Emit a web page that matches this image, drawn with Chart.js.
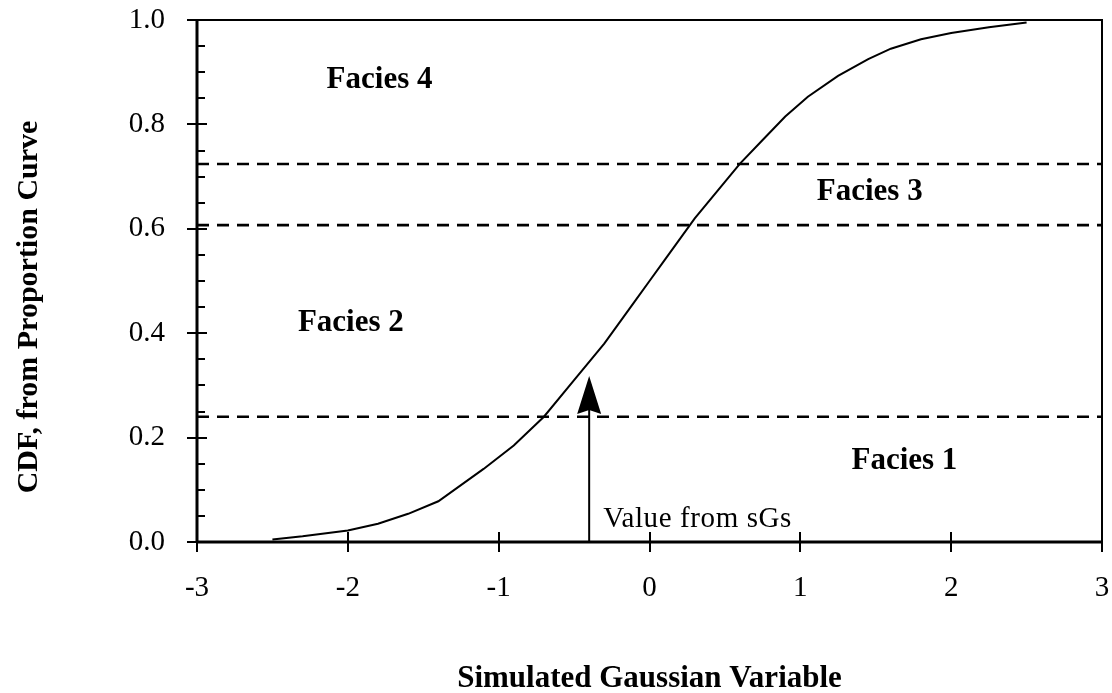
<!DOCTYPE html>
<html>
<head>
<meta charset="utf-8">
<script src="https://cdn.jsdelivr.net/npm/chart.js@4.4.1/dist/chart.umd.min.js"></script>
<style>
  body { margin: 0; background: #fff; }
  #wrap { width: 1112px; height: 693px; }
</style>
</head>
<body>
<div id="wrap"><canvas id="cdfChart" width="1112" height="693"></canvas></div>
<script>
// CDF
var gaussX = [-2.5, -2.3, -2.0, -1.8, -1.6, -1.4, -1.1, -0.9, -0.7, -0.5, -0.3, -0.1, 0.0, 0.1, 0.3, 0.5, 0.6, 0.75, 0.9, 1.05, 1.25, 1.45, 1.6, 1.8, 2.0, 2.25, 2.5];
var cdfY   = [0.005, 0.011, 0.022, 0.035, 0.054, 0.078, 0.14, 0.185, 0.24, 0.31, 0.38, 0.46, 0.50, 0.54, 0.62, 0.69, 0.725, 0.77, 0.815, 0.853, 0.893, 0.925, 0.945, 0.963, 0.975, 0.986, 0.995];

// facies thresholds on the CDF
var faciesCuts = [0.24, 0.607, 0.724];
var faciesNames = ['Facies 1', 'Facies 2', 'Facies 3', 'Facies 4'];

// simulated value and where the arrow stops
var sgsValue = -0.4;
var sgsArrowTop = 0.318;
var sgsLabel = 'Value from sGs';

var xTitle = 'Simulated Gaussian Variable';
var yTitle = 'CDF, from Proportion Curve';

// where the facies names sit (data coords)
var faciesPos = [
  { x: 1.69, y: 0.155 },
  { x: -1.98, y: 0.42 },
  { x: 1.46, y: 0.67 },
  { x: -1.79, y: 0.885 }
];

var serif = '"Liberation Serif", "Times New Roman", serif';

var curvePts = [];
for (var i = 0; i < gaussX.length; i++) curvePts.push({ x: gaussX[i], y: cdfY[i] });

var datasets = [{
  data: curvePts,
  borderColor: '#000',
  borderWidth: 2,
  pointRadius: 0,
  tension: 0,
  showLine: true
}];
faciesCuts.forEach(function (c) {
  datasets.push({
    data: [{ x: -3, y: c }, { x: 3, y: c }],
    borderColor: '#000',
    borderWidth: 2.6,
    borderDash: [12, 8],
    pointRadius: 0,
    showLine: true
  });
});

var decor = {
  id: 'decor',
  afterDatasetsDraw: function (chart) {
    var ctx = chart.ctx, a = chart.chartArea;
    var xs = chart.scales.x, ys = chart.scales.y;
    ctx.save();
    ctx.strokeStyle = '#000';
    ctx.fillStyle = '#000';

    // frame
    ctx.lineWidth = 2;
    ctx.beginPath();
    ctx.moveTo(a.left - 10, a.top); ctx.lineTo(a.right, a.top); ctx.lineTo(a.right, a.bottom + 10);
    ctx.stroke();
    ctx.lineWidth = 3;
    ctx.beginPath();
    ctx.moveTo(a.left, a.top - 1); ctx.lineTo(a.left, a.bottom + 1);
    ctx.moveTo(a.left - 1, a.bottom); ctx.lineTo(a.right, a.bottom);
    ctx.stroke();

    // y ticks: major cross, minor inside
    ctx.lineWidth = 2;
    ctx.beginPath();
    for (var k = 0; k <= 20; k++) {
      var v = k * 0.05;
      var py = Math.round(ys.getPixelForValue(v));
      if (k % 4 === 0) { ctx.moveTo(a.left - 10, py); ctx.lineTo(a.left + 10, py); }
      else { ctx.moveTo(a.left, py); ctx.lineTo(a.left + 8, py); }
    }
    // x ticks cross the axis
    xs.ticks.forEach(function (t) {
      var px = Math.round(xs.getPixelForValue(t.value));
      ctx.moveTo(px, a.bottom - 10); ctx.lineTo(px, a.bottom + 10);
    });
    ctx.stroke();

    // arrow for the sGs value
    var ax = xs.getPixelForValue(sgsValue);
    var tip = ys.getPixelForValue(sgsArrowTop);
    ctx.lineWidth = 2;
    ctx.beginPath();
    ctx.moveTo(ax, a.bottom); ctx.lineTo(ax, tip + 30);
    ctx.stroke();
    ctx.beginPath();
    ctx.moveTo(ax, tip);
    ctx.lineTo(ax + 12, tip + 38);
    ctx.lineTo(ax, tip + 34);
    ctx.lineTo(ax - 12, tip + 38);
    ctx.closePath();
    ctx.fill();

    ctx.font = '29px ' + serif;
    ctx.textAlign = 'left';
    ctx.textBaseline = 'alphabetic';
    if ('letterSpacing' in ctx) ctx.letterSpacing = '0.6px';
    ctx.fillText(sgsLabel, ax + 14, a.bottom - 15);
    if ('letterSpacing' in ctx) ctx.letterSpacing = '0px';

    // facies names
    ctx.font = 'bold 31px ' + serif;
    ctx.textAlign = 'center';
    ctx.textBaseline = 'middle';
    faciesNames.forEach(function (n, j) {
      ctx.fillText(n, xs.getPixelForValue(faciesPos[j].x), ys.getPixelForValue(faciesPos[j].y));
    });

    // axis titles
    ctx.font = 'bold 31px ' + serif;
    ctx.textBaseline = 'alphabetic';
    ctx.fillText(xTitle, (a.left + a.right) / 2, 687);
    ctx.translate(37, 307);
    ctx.rotate(-Math.PI / 2);
    ctx.font = 'bold 30px ' + serif;
    ctx.fillText(yTitle, 0, 0);
    ctx.restore();
  }
};

new Chart(document.getElementById('cdfChart'), {
  type: 'scatter',
  data: { datasets: datasets },
  options: {
    responsive: false,
    animation: false,
    devicePixelRatio: 1,
    layout: { padding: { top: 20, right: 10, left: 0, bottom: 0 } },
    plugins: { legend: { display: false }, tooltip: { enabled: false } },
    scales: {
      x: {
        type: 'linear', min: -3, max: 3,
        grid: { display: false, drawTicks: false },
        border: { display: false },
        ticks: { stepSize: 1, color: '#000', padding: 29, font: { family: serif, size: 29 } },
        afterFit: function (s) { s.height = 151; s.paddingLeft = 0; s.paddingRight = 0; }
      },
      y: {
        type: 'linear', min: 0, max: 1,
        grid: { display: false, drawTicks: false },
        border: { display: false },
        ticks: {
          stepSize: 0.2, color: '#000', padding: 32, font: { family: serif, size: 29 },
          callback: function (v) { return v.toFixed(1); }
        },
        afterFit: function (s) { s.width = 197; s.paddingTop = 0; s.paddingBottom = 0; }
      }
    }
  },
  plugins: [decor]
});
</script>
</body>
</html>
